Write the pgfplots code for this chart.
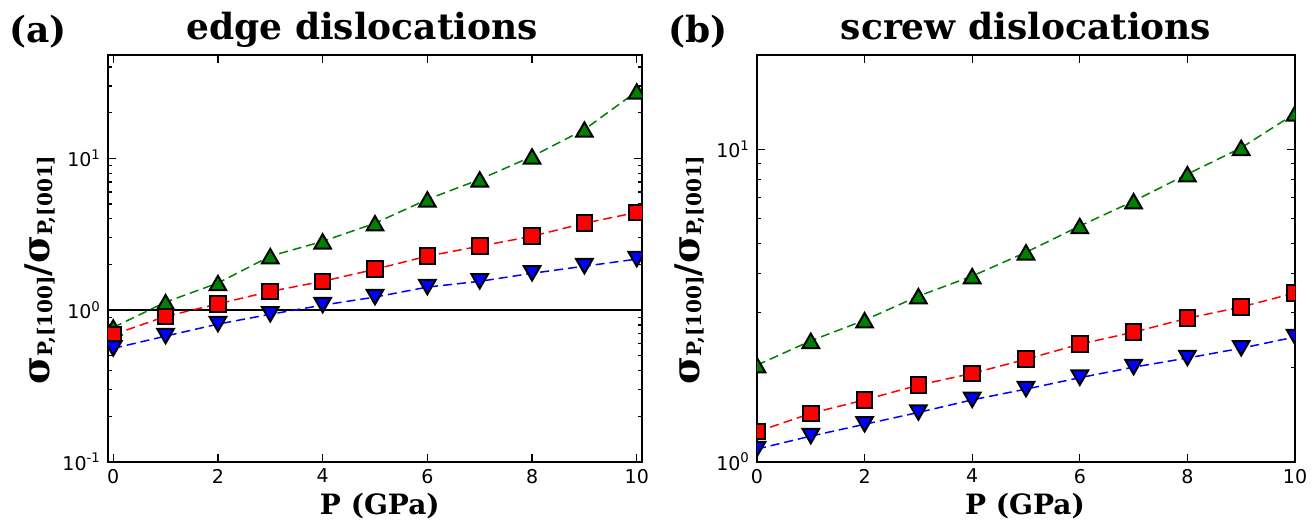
\documentclass[border=0pt]{standalone}
\usepackage{fontspec}
\newfontfamily\dejavu{DejaVu Sans}
\newfontfamily\dserif{DejaVu Serif}
\usepackage{pgfplots}
\pgfplotsset{compat=1.18}
\definecolor{mplgreen}{RGB}{0,128,0}
\definecolor{mplred}{RGB}{255,0,0}
\definecolor{mplblue}{RGB}{0,0,255}

% sigma with a small lowered subscript, like the mathtext label
\newcommand{\sigP}[1]{{\fontsize{19}{21}\selectfont σ}\raisebox{-1.2pt}{\fontsize{10}{12}\selectfont #1}}
\newcommand{\ratiolabel}{\dserif\bfseries\sigP{P,[100]}{\fontsize{17}{19}\selectfont/}\sigP{P,[001]}}

\pgfplotsset{
  dislpanel/.style={
    scale only axis, height=203.5pt,
    axis line style={line width=1pt},
    tick style={black, line width=0.6pt},
    major tick length=4pt, minor tick length=2pt,
    xtick={0,2,4,6,8,10}, xticklabels={0,2,4,6,8,10},
    tick label style={font=\dejavu\fontsize{9.5}{11}\selectfont},
    clip marker paths=true,
  },
}
\tikzset{
  fitline/.style={dash pattern=on 4.5pt off 2.5pt, line width=0.75pt},
  upmk/.style={mark=triangle*, mark size=4.8pt, fill=mplgreen, draw=black,
    mark options={line width=1pt, yshift=-1.2pt}},
  sqmk/.style={mark=square*, mark size=3.9pt, fill=mplred, draw=black,
    mark options={line width=1pt}},
  dnmk/.style={mark=triangle*, mark size=4.8pt, fill=mplblue, draw=black,
    mark options={line width=1pt, yshift=1.2pt, rotate=180}},
  ttl/.style={font=\dserif\bfseries\fontsize{18}{21}\selectfont, anchor=base},
  lbl/.style={font=\dserif\bfseries\fontsize{14}{17}\selectfont, anchor=base},
}

\begin{document}
\begin{tikzpicture}
\useasboundingbox (-54pt,-33.5pt) rectangle (602pt,231pt);

% (a) edge dislocations
\begin{axis}[dislpanel, ymode=log, width=267pt,
  at={(0pt,0pt)},
  xmin=-0.1, xmax=10.1, ymin=0.1, ymax=48,
  ytick={0.1,1,10},
  yticklabels={10\textsuperscript{-1},10\textsuperscript{0},10\textsuperscript{1}},
  minor ytick={0.2,0.3,0.4,0.5,0.6,0.7,0.8,0.9,2,3,4,5,6,7,8,9,20,30,40},
  extra description/.code={
    \node[ttl] at (0.476,1.037) {edge dislocations};
    \node[ttl] at (-0.131,1.03) {(a)};
    \node[lbl] at (0.509,-0.130) {P (GPa)};
    \node[rotate=90, anchor=center] at (-0.127,0.472) {\ratiolabel};
  },
]
\addplot[black, line width=0.8pt] coordinates {(-0.1,1)(10.1,1)};
\addplot[fitline, mplgreen] coordinates {
  (0,0.77)(1,1.13)(2,1.51)(3,2.27)(4,2.84)(5,3.74)(6,5.37)(7,7.27)(8,10.3)(9,15.5)(10,27.6)};
\addplot[fitline, mplred] coordinates {
  (0,0.69)(1,0.91)(2,1.10)(3,1.33)(4,1.55)(5,1.86)(6,2.27)(7,2.64)(8,3.07)(9,3.74)(10,4.41)};
\addplot[fitline, mplblue] coordinates {
  (0,0.56)(1,0.675)(2,0.81)(3,0.94)(4,1.08)(5,1.22)(6,1.42)(7,1.55)(8,1.75)(9,1.95)(10,2.17)};
\addplot[only marks, upmk] coordinates {
  (0,0.77)(1,1.13)(2,1.51)(3,2.27)(4,2.84)(5,3.74)(6,5.37)(7,7.27)(8,10.3)(9,15.5)(10,27.6)};
\addplot[only marks, sqmk] coordinates {
  (0,0.69)(1,0.91)(2,1.10)(3,1.33)(4,1.55)(5,1.86)(6,2.27)(7,2.64)(8,3.07)(9,3.74)(10,4.41)};
\addplot[only marks, dnmk] coordinates {
  (0,0.56)(1,0.675)(2,0.81)(3,0.94)(4,1.08)(5,1.22)(6,1.42)(7,1.55)(8,1.75)(9,1.95)(10,2.17)};
\end{axis}

% (b) screw dislocations
\begin{axis}[dislpanel, ymode=log, width=269pt,
  at={(324.5pt,0pt)},
  xmin=0, xmax=10, ymin=1, ymax=20,
  ytick={1,10},
  yticklabels={10\textsuperscript{0},10\textsuperscript{1}},
  minor ytick={2,3,4,5,6,7,8,9,20},
  extra description/.code={
    \node[ttl] at (0.5,1.037) {screw dislocations};
    \node[ttl] at (-0.110,1.03) {(b)};
    \node[lbl] at (0.498,-0.130) {P (GPa)};
    \node[rotate=90, anchor=center] at (-0.125,0.472) {\ratiolabel};
  },
]
\addplot[fitline, mplgreen] coordinates {
  (0,2.04)(1,2.44)(2,2.84)(3,3.39)(4,3.93)(5,4.68)(6,5.68)(7,6.82)(8,8.32)(9,10.1)(10,13.0)};
\addplot[fitline, mplred] coordinates {
  (0,1.25)(1,1.43)(2,1.58)(3,1.76)(4,1.92)(5,2.13)(6,2.38)(7,2.60)(8,2.88)(9,3.13)(10,3.47)};
\addplot[fitline, mplblue] coordinates {
  (0,1.10)(1,1.21)(2,1.32)(3,1.44)(4,1.58)(5,1.71)(6,1.86)(7,2.01)(8,2.15)(9,2.31)(10,2.51)};
\addplot[only marks, upmk] coordinates {
  (0,2.04)(1,2.44)(2,2.84)(3,3.39)(4,3.93)(5,4.68)(6,5.68)(7,6.82)(8,8.32)(9,10.1)(10,13.0)};
\addplot[only marks, sqmk] coordinates {
  (0,1.25)(1,1.43)(2,1.58)(3,1.76)(4,1.92)(5,2.13)(6,2.38)(7,2.60)(8,2.88)(9,3.13)(10,3.47)};
\addplot[only marks, dnmk] coordinates {
  (0,1.10)(1,1.21)(2,1.32)(3,1.44)(4,1.58)(5,1.71)(6,1.86)(7,2.01)(8,2.15)(9,2.31)(10,2.51)};
\end{axis}
\end{tikzpicture}
\end{document}
